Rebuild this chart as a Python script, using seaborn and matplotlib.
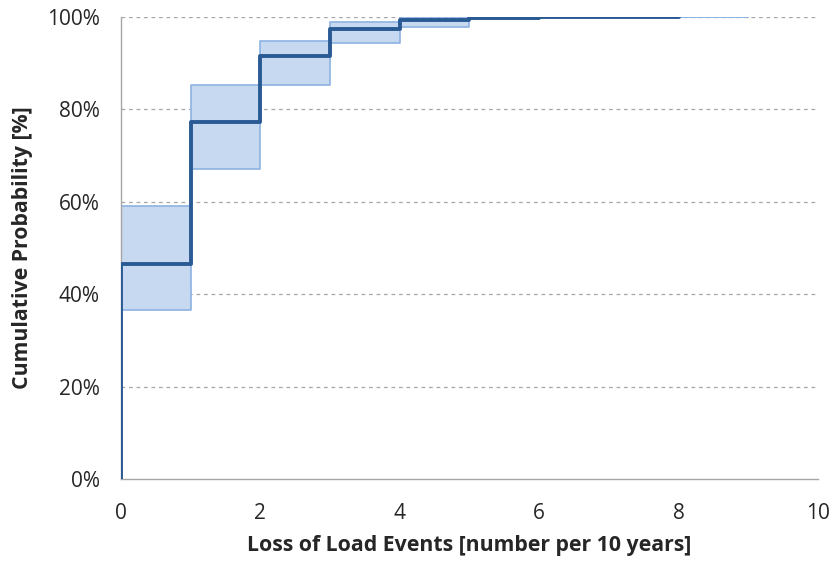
import matplotlib
matplotlib.use("Agg")
import matplotlib.pyplot as plt
import seaborn as sns
import pandas as pd
from matplotlib.ticker import FuncFormatter

# Median cumulative probability (step function), x = number of events
median_x = [0, 0, 1, 2, 3, 4, 5, 6, 7, 8]
median_p = [0, 46.5, 77.3, 91.6, 97.4, 99.4, 99.8, 99.9, 100, 100]

# Confidence band per interval
band_x = [0, 1, 2, 3, 4, 5, 6, 7, 8, 9]
band_lower = [36.6, 67.1, 85.3, 94.4, 97.8, 99.6, 99.9, 100, 100, 100]
band_upper = [59.1, 85.3, 94.8, 98.9, 99.8, 100, 100, 100, 100, 100]

x_ticks = [0, 2, 4, 6, 8, 10]
y_ticks = [0, 20, 40, 60, 80, 100]

sns.set_theme(style="white")
plt.rcParams['font.family'] = ['Open Sans', 'DejaVu Sans']

fig = plt.figure(figsize=(8.33, 5.61), dpi=100)
ax = fig.add_axes([0.145, 0.146, 0.837, 0.824])

ax.fill_between(band_x, band_lower, band_upper, step='post',
                facecolor='#c6d9f0', edgecolor='#8db3e2', linewidth=1.2, zorder=2)

df = pd.DataFrame({'x': median_x, 'p': median_p})
sns.lineplot(data=df, x='x', y='p', drawstyle='steps-post', color='#2a5a94',
             linewidth=2.8, ax=ax, zorder=3, estimator=None, sort=False)

ax.set_xlim(0, 10)
ax.set_ylim(0, 100)
ax.set_xticks(x_ticks)
ax.set_yticks(y_ticks)
ax.yaxis.set_major_formatter(FuncFormatter(lambda v, _: f"{int(v)}%"))

for y in y_ticks[1:]:
    ax.axhline(y, color='#a6a6a6', linestyle=(0, (3, 3)), linewidth=0.9, zorder=1)

for s in ['top', 'right']:
    ax.spines[s].set_visible(False)
for s in ['left', 'bottom']:
    ax.spines[s].set_color('#a6a6a6')
    ax.spines[s].set_linewidth(1.0)

ax.tick_params(axis='both', which='major', length=5, width=1, color='#a6a6a6',
               labelsize=15, labelcolor='#262626', direction='out')
ax.tick_params(axis='x', pad=12)
ax.tick_params(axis='y', pad=10)

ax.set_xlabel('Loss of Load Events [number per 10 years]', fontsize=15.3,
              fontweight='bold', color='#262626', labelpad=8)
ax.set_ylabel('Cumulative Probability [%]', fontsize=15.3,
              fontweight='bold', color='#262626', labelpad=10)

fig.savefig('out.png', dpi=100)
